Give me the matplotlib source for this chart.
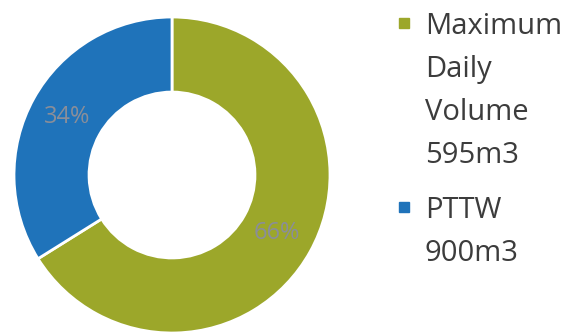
import numpy as np
from matplotlib import pyplot as plt
from matplotlib.patches import Rectangle

plt.rcParams['font.family'] = ['Open Sans', 'DejaVu Sans']

# data
permit = 900          # PTTW, m3
max_daily = 595       # maximum daily volume, m3
values = [max_daily, permit - max_daily]
colors = ['#9CA72A', '#1F73BA']
legend_labels = ['Maximum\nDaily\nVolume\n595m3', 'PTTW\n900m3']
legend_colors = ['#9CA72A', '#1F73BA']

fig = plt.figure(figsize=(5.74, 3.35), dpi=100)
ax = fig.add_axes([14/574, 2/335, 316/574, 316/335])

wedges, texts, autotexts = ax.pie(values, colors=colors, startangle=90, counterclock=False,
                                  radius=1.0, autopct='%1.0f%%', pctdistance=0.76,
                                  wedgeprops=dict(width=0.475, edgecolor='white', linewidth=2),
                                  textprops=dict(color='#8A8E99', fontsize=17))
ax.set_xlim(-1, 1)
ax.set_ylim(-1, 1)
ax.set_aspect('equal')
ax.axis('off')

# legend drawn by hand: marker beside first line, text flowing below
W, H = 574, 335
y = 34  # baseline of first line, px from top
for lab, c in zip(legend_labels, legend_colors):
    lines = lab.split('\n')
    fig.patches.append(Rectangle((399/W, 1 - (y - 6)/H), 10/W, 10/H, transform=fig.transFigure,
                                 color=c, figure=fig))
    for ln in lines:
        fig.text(425/W, 1 - y/H, ln, fontsize=21, color='#3C3C3C', va='baseline', ha='left')
        y += 43
    y += 12

fig.savefig('out.png', dpi=100)
